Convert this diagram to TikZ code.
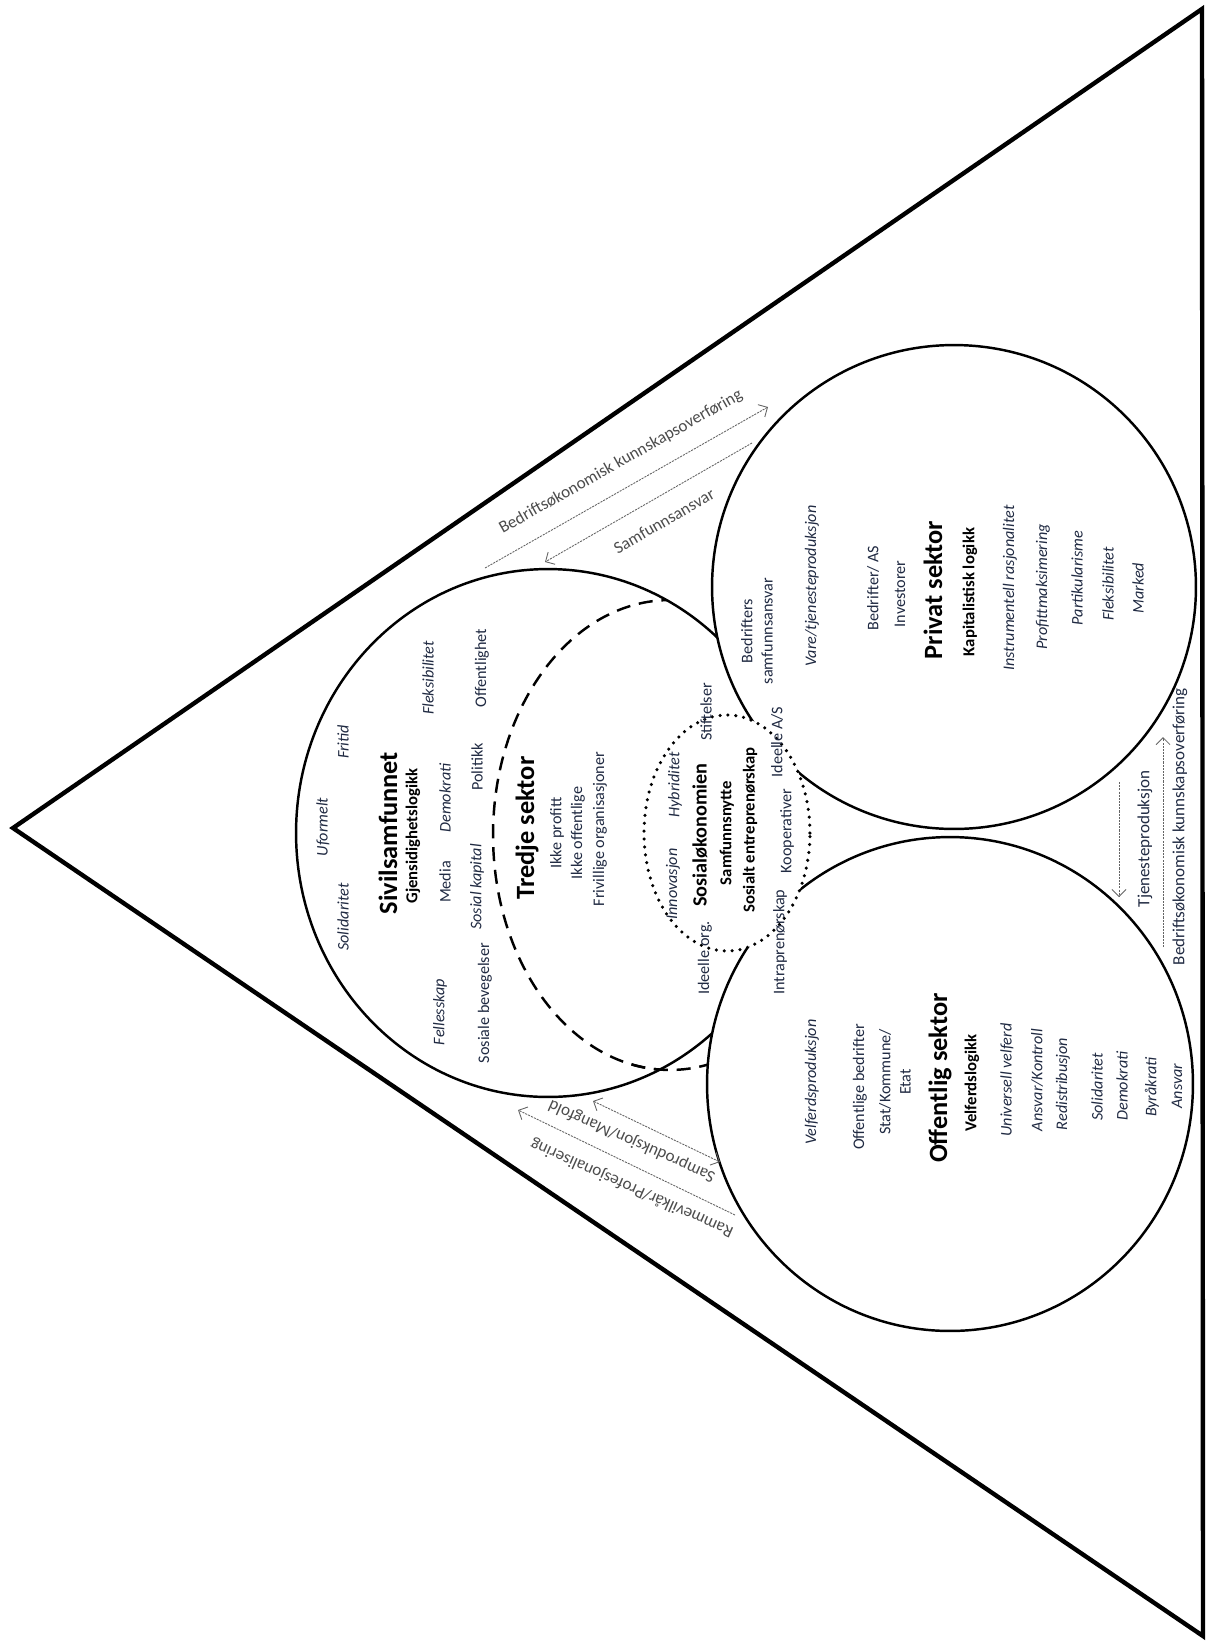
\documentclass[tikz,border=0pt]{standalone}
\usepackage{fontspec}
\setmainfont{Carlito}
\usepackage{tikz}
\usetikzlibrary{arrows.meta, shapes.geometric}
\definecolor{tekst}{RGB}{32,42,66}
\definecolor{pilgraa}{RGB}{100,100,100}
\tikzstyle{punkt} = [rotate=90, inner sep=0pt, text=tekst, align=center, font=\fontsize{9.2}{11.5}\selectfont]
\tikzstyle{kursiv} = [punkt, font=\fontsize{9.2}{11.5}\selectfont\itshape]
\tikzstyle{sektor} = [rotate=90, inner sep=0pt, text=black, font=\fontsize{15}{17}\selectfont\bfseries]
\tikzstyle{sosialtittel} = [rotate=90, inner sep=0pt, text=black, font=\fontsize{11.5}{13}\selectfont\bfseries]
\tikzstyle{logikk} = [rotate=90, inner sep=0pt, text=black, font=\fontsize{9.5}{11}\selectfont\bfseries]
\tikzstyle{krets} = [line width=1.4pt, fill=white]
\tikzstyle{stiplet} = [line width=1.4pt, dash pattern=on 8pt off 5pt]
\tikzstyle{pil} = [pilgraa, line width=0.5pt, dash pattern=on 1.2pt off 0.6pt, ->]
\tikzstyle{piltekst} = [inner sep=0pt, text=black!70, font=\fontsize{9.7}{11}\selectfont]

\begin{document}
\begin{tikzpicture}[x=0.02cm, y=-0.02cm, >={Straight Barb[length=4pt,width=8pt]}]
  \useasboundingbox (0,0) rectangle (1216,1644);

  % ytre trekant
  \coordinate (spiss) at (13,828);
  \coordinate (hoyreopp) at (1202,9);
  \coordinate (hoyrened) at (1203,1636);
  \draw[line width=2.5pt] (spiss) -- (hoyreopp) -- (hoyrened) -- cycle;

  % sektorene
  \draw[krets] (548,833) ellipse [x radius=5.04cm, y radius=5.28cm];
  \begin{scope}
    \clip (548,833) ellipse [x radius=5.04cm, y radius=5.28cm];
    \draw[stiplet] (670,835) ellipse [x radius=3.54cm, y radius=4.7cm];
  \end{scope}
  \begin{scope}
    \clip (630,1000) rectangle (720,1100);
    \draw[stiplet] (670,835) ellipse [x radius=3.54cm, y radius=4.7cm];
  \end{scope}
  \draw[krets] (954,587) circle [radius=4.84cm];
  \draw[krets] (950,1084) ellipse [x radius=4.86cm, y radius=4.94cm];
  \draw[line width=2pt, line cap=round, dash pattern=on 0pt off 4.5pt, fill=white] (727,833) ellipse [x radius=1.66cm, y radius=2.36cm];

  % sivilsamfunnet
  \node[kursiv] (solidaritet) at (343,917) {Solidaritet};
  \node[kursiv] (uformelt) at (323,827) {Uformelt};
  \node[kursiv] (fritid) at (343,742) {Fritid};
  \node[sektor] (sivil) at (388,833) {Sivilsamfunnet};
  \node[logikk] (gjensidig) at (413,836) {Gjensidighetslogikk};
  \node[punkt] (media) at (445,882) {Media};
  \node[kursiv] (demokrati) at (445,798) {Demokrati};
  \node[kursiv] (fleksibel) at (428,678) {Fleksibilitet};
  \node[punkt] (offentlighet) at (482,668) {Offentlighet};
  \node[punkt] (politikk) at (477,767) {Politikk};
  \node[kursiv] (sosialkap) at (477,887) {Sosial kapital};
  \node[punkt] (bevegelser) at (485,1003) {Sosiale bevegelser};
  \node[kursiv] (fellesskap) at (440,1012) {Fellesskap};

  % tredje sektor
  \node[sektor] (tredje) at (527,828) {Tredje sektor};
  \node[punkt] (ikkeprofitt) at (557,833) {Ikke profitt};
  \node[punkt] (ikkeoff) at (578,833) {Ikke offentlige};
  \node[punkt] (frivillige) at (600,829) {Frivillige organisasjoner};

  % sosialøkonomien
  \node[kursiv] (innovasjon) at (673,884) {Innovasjon};
  \node[kursiv] (hybriditet) at (675,785) {Hybriditet};
  \node[sosialtittel] (sosialok) at (700,835) {Sosialøkonomien};
  \node[logikk] (nytte) at (727,833) {Samfunnsnytte};
  \node[logikk] (entreprenor) at (750,830) {Sosialt entreprenørskap};
  \node[punkt] (kooperativer) at (787,831) {Kooperativer};
  \node[punkt] (ideelleorg) at (705,958) {Ideelle org.};
  \node[punkt] (intra) at (780,942) {Intraprenørskap};
  \node[punkt] (stiftelser) at (706,712) {Stiftelser};
  \node[punkt] (ideelleas) at (777,742) {Ideelle A/S};

  % privat sektor
  \node[punkt] (samfansvar) at (757,631) {Bedrifters\\samfunnsansvar};
  \node[kursiv] (vare) at (812,586) {Vare/tjenesteproduksjon};
  \node[punkt] (bedrifter) at (873,588) {Bedrifter/ AS};
  \node[punkt] (investorer) at (900,594) {Investorer};
  \node[sektor] (privat) at (933,590) {Privat sektor};
  \node[logikk] (kapital) at (970,592) {Kapitalistisk logikk};
  \node[kursiv] (instrumentell) at (1010,588) {Instrumentell rasjonalitet};
  \node[kursiv] (profitt) at (1043,587) {Profittmaksimering};
  \node[kursiv] (partikular) at (1077,578) {Partikularisme};
  \node[kursiv] (fleksprivat) at (1108,584) {Fleksibilitet};
  \node[kursiv] (marked) at (1138,588) {Marked};

  % offentlig sektor
  \node[kursiv] (velferdsprod) at (812,1082) {Velferdsproduksjon};
  \node[punkt] (offbedrifter) at (860,1087) {Offentlige bedrifter};
  \node[punkt] (stat) at (895,1082) {Stat/Kommune/\\Etat};
  \node[sektor] (offentlig) at (940,1078) {Offentlig sektor};
  \node[logikk] (velferdslogikk) at (972,1083) {Velferdslogikk};
  \node[kursiv] (universell) at (1007,1080) {Universell velferd};
  \node[kursiv] (ansvarkontroll) at (1037,1080) {Ansvar/Kontroll};
  \node[kursiv] (redistribusjon) at (1063,1084) {Redistribusjon};
  \node[kursiv] (solidoff) at (1097,1087) {Solidaritet};
  \node[kursiv] (demokoff) at (1122,1086) {Demokrati};
  \node[kursiv] (byrakrati) at (1152,1087) {Byråkrati};
  \node[kursiv] (ansvar) at (1177,1086) {Ansvar};

  % piler mellom sektorene
  \coordinate (bk1_fra) at (485,568);
  \coordinate (bk1_til) at (768,407);
  \coordinate (sa_fra) at (752,443);
  \coordinate (sa_til) at (545,562);
  \coordinate (sp_a) at (593,1101);
  \coordinate (sp_b) at (720,1162);
  \coordinate (rv_fra) at (735,1215);
  \coordinate (rv_til) at (518,1110);
  \coordinate (tj_fra) at (1119,782);
  \coordinate (tj_til) at (1119,897);
  \coordinate (bk2_fra) at (1163,947);
  \coordinate (bk2_til) at (1163,737);
  \draw[pil] (bk1_fra) -- (bk1_til);
  \draw[pil] (sa_fra) -- (sa_til);
  \draw[pil, <->] (sp_a) -- (sp_b);
  \draw[pil] (rv_fra) -- (rv_til);
  \draw[pil] (tj_fra) -- (tj_til);
  \draw[pil] (bk2_fra) -- (bk2_til);

  \node[piltekst, rotate=29.5] (bk1_tekst) at (621,462) {Bedriftsøkonomisk kunnskapsoverføring};
  \node[piltekst, rotate=30] (sa_tekst) at (664,521) {Samfunnsansvar};
  \node[piltekst, rotate=156] (sp_tekst) at (632,1141) {Samproduksjon/Mangfold};
  \node[piltekst, rotate=156] (rv_tekst) at (632,1188) {Rammevilkår/Profesjonalisering};
  \node[piltekst, rotate=90, text=tekst] (tj_tekst) at (1145,839) {Tjenesteproduksjon};
  \node[piltekst, rotate=90, text=tekst] (bk2_tekst) at (1180,827) {Bedriftsøkonomisk kunnskapsoverføring};
\end{tikzpicture}
\end{document}
